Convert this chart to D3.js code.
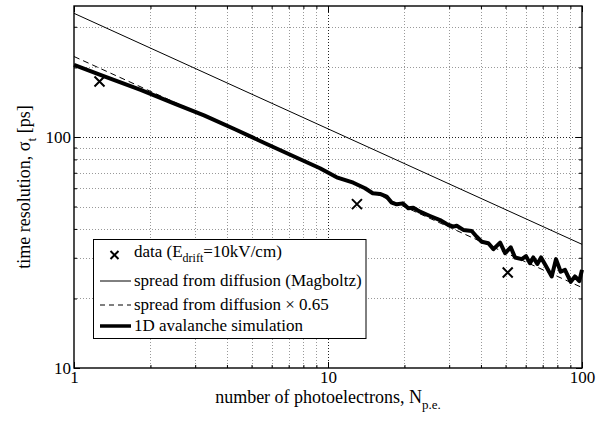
<!DOCTYPE html>
<html>
<head>
<meta charset="utf-8">
<script src="https://cdn.jsdelivr.net/npm/d3@7"></script>
<style>
  body { margin: 0; background: #fff; }
</style>
</head>
<body>
<div id="chart"></div>
<script>
// data
var xMajorTicks = [1, 10, 100];
var yMajorTicks = [10, 100];

var measN     = [1.26, 13.0, 51.0];
var measSigma = [174, 51.2, 25.9];

var magboltzN     = [1, 100];
var magboltzSigma = [343, 34.3];

var scaledN     = [1, 100];
var scaledSigma = [223, 22.3];

var simN = [1, 1.3, 1.83, 2.5, 3.25, 4.3, 5.65, 7.5, 9.3, 10.82, 12.58, 13.99, 15.0, 16.02,
            17.02, 17.81, 18.65, 19.68, 20.71, 21.67, 23.02, 25.21, 27.6, 29.33, 31.14,
            32.12, 34.1, 36.8, 38.5, 40.3, 42.8, 44.8, 47.6, 49.8, 52.4, 54.5, 57.9, 60.2,
            62.4, 64.3, 66.7, 69.0, 72.2, 76.0, 79.0, 82.4, 85.7, 90.3, 93.8, 97.6, 100];
var simSigma = [205, 184, 160, 139, 124, 108, 94, 81.5, 73.2, 66.9, 63.4, 60.0, 57.1, 56.7,
                55.2, 52.0, 51.1, 51.6, 49.1, 49.4, 47.5, 45.5, 43.7, 42.0, 40.9,
                41.3, 39.6, 39.2, 37.0, 35.2, 34.7, 32.7, 34.9, 31.4, 33.3, 30.1, 29.6, 30.5,
                28.4, 30.1, 28.2, 30.1, 27.6, 24.9, 29.6, 26.1, 26.6, 23.6, 24.9, 23.8, 26.6];

var legendLabels = ["data (E", "spread from diffusion (Magboltz)",
                    "spread from diffusion \u00d7 0.65", "1D avalanche simulation"];

(function()
{
    "use strict";

    var FONT = "'Liberation Serif', 'Times New Roman', serif";
    var W = 603, H = 421;
    var left = 74, right = 582, top = 6, bottom = 368;

    var svg = d3.select("#chart").append("svg")
                .attr("width", W).attr("height", H)
                .attr("font-family", FONT);

    var x = d3.scaleLog().domain([1, 100]).range([left, right]);
    var y = d3.scaleLog().domain([10, 369]).range([bottom, top]);

    // minor values for grid and small ticks
    var xMinor = [], yMinor = [];
    [1, 10].forEach(function(d) { for (var k = 2; k <= 9; k++) xMinor.push(d * k); });
    [10, 100].forEach(function(d) { for (var k = 2; k <= 9; k++) if (d * k < 369) yMinor.push(d * k); });

    // ---------------------------------------------------------------- grid
    var grid = svg.append("g").attr("stroke-dasharray", "1,2").attr("stroke-width", 1);
    grid.selectAll(".gx").data(xMinor.concat([10])).enter().append("line")
        .attr("x1", function(d) { return Math.round(x(d)) + 0.5; })
        .attr("x2", function(d) { return Math.round(x(d)) + 0.5; })
        .attr("y1", top).attr("y2", bottom)
        .attr("stroke", function(d) { return d === 10 ? "#222" : "#999"; });
    grid.selectAll(".gy").data(yMinor.concat([100])).enter().append("line")
        .attr("y1", function(d) { return Math.round(y(d)) + 0.5; })
        .attr("y2", function(d) { return Math.round(y(d)) + 0.5; })
        .attr("x1", left).attr("x2", right)
        .attr("stroke", function(d) { return d === 100 ? "#222" : "#999"; });

    // ---------------------------------------------------------------- axes
    function styleAxis(g) {
        g.select(".domain").remove();
        g.selectAll("line").attr("stroke", "#000").attr("stroke-width", 1);
        g.attr("font-family", FONT).attr("font-size", 17);
    }

    svg.append("g").attr("transform", `translate(0,${bottom})`)
       .call(d3.axisBottom(x).tickValues(xMajorTicks).tickFormat(d3.format("d"))
               .tickSizeInner(-6).tickSizeOuter(0).tickPadding(3))
       .call(styleAxis);
    svg.append("g").attr("transform", `translate(0,${bottom})`)
       .call(d3.axisBottom(x).tickValues(xMinor).tickFormat("").tickSizeInner(-3).tickSizeOuter(0))
       .call(styleAxis);
    svg.append("g").attr("transform", `translate(0,${top})`)
       .call(d3.axisTop(x).tickValues(xMajorTicks).tickFormat("").tickSizeInner(-6).tickSizeOuter(0))
       .call(styleAxis);
    svg.append("g").attr("transform", `translate(0,${top})`)
       .call(d3.axisTop(x).tickValues(xMinor).tickFormat("").tickSizeInner(-3).tickSizeOuter(0))
       .call(styleAxis);

    svg.append("g").attr("transform", `translate(${left},0)`)
       .call(d3.axisLeft(y).tickValues(yMajorTicks).tickFormat(d3.format("d"))
               .tickSizeInner(-6).tickSizeOuter(0).tickPadding(3))
       .call(styleAxis);
    svg.append("g").attr("transform", `translate(${left},0)`)
       .call(d3.axisLeft(y).tickValues(yMinor).tickFormat("").tickSizeInner(-3).tickSizeOuter(0))
       .call(styleAxis);
    svg.append("g").attr("transform", `translate(${right},0)`)
       .call(d3.axisRight(y).tickValues(yMajorTicks).tickFormat("").tickSizeInner(-6).tickSizeOuter(0))
       .call(styleAxis);
    svg.append("g").attr("transform", `translate(${right},0)`)
       .call(d3.axisRight(y).tickValues(yMinor).tickFormat("").tickSizeInner(-3).tickSizeOuter(0))
       .call(styleAxis);

    // ---------------------------------------------------------------- lines
    var line = d3.line()
                 .x(function(d) { return x(d[0]); })
                 .y(function(d) { return y(d[1]); });

    var plot = svg.append("g");

    plot.append("path").datum(d3.zip(magboltzN, magboltzSigma))
        .attr("d", line).attr("fill", "none").attr("stroke", "#000").attr("stroke-width", 1);
    plot.append("path").datum(d3.zip(scaledN, scaledSigma))
        .attr("d", line).attr("fill", "none").attr("stroke", "#000").attr("stroke-width", 1)
        .attr("stroke-dasharray", "6,4");
    plot.append("path").datum(d3.zip(simN, simSigma))
        .attr("d", line).attr("fill", "none").attr("stroke", "#000").attr("stroke-width", 4)
        .attr("stroke-linejoin", "round");

    function cross(g, cx, cy, r) {
        g.append("path")
         .attr("d", `M${cx-r},${cy-r}L${cx+r},${cy+r}M${cx-r},${cy+r}L${cx+r},${cy-r}`)
         .attr("stroke", "#000").attr("stroke-width", 2).attr("fill", "none");
    }
    d3.zip(measN, measSigma).forEach(function(d) { cross(plot, x(d[0]), y(d[1]), 5); });

    // frame
    svg.append("rect").attr("x", left).attr("y", top)
       .attr("width", right - left).attr("height", bottom - top)
       .attr("fill", "none").attr("stroke", "#000").attr("stroke-width", 1.4);

    // ---------------------------------------------------------------- legend
    var lg = svg.append("g").attr("font-size", 17).attr("font-family", FONT);
    lg.append("rect").attr("x", 93.5).attr("y", 239.5).attr("width", 272.5).attr("height", 99)
      .attr("fill", "#fff").attr("stroke", "#000").attr("stroke-width", 1);

    cross(lg, 114.5, 255, 4);
    var t0 = lg.append("text").attr("x", 134).attr("y", 257);
    t0.append("tspan").text(legendLabels[0]);
    t0.append("tspan").attr("font-size", 12).attr("dy", 5).text("drift");
    t0.append("tspan").attr("dy", -5).text("=10kV/cm)");

    var rows = [
        {y: 281, w: 1, dash: null},
        {y: 305, w: 1, dash: "5,4"},
        {y: 326, w: 3.5, dash: null}
    ];
    rows.forEach(function(r, i) {
        lg.append("line").attr("x1", 100).attr("x2", 131).attr("y1", r.y).attr("y2", r.y)
          .attr("stroke", "#000").attr("stroke-width", r.w)
          .attr("stroke-dasharray", r.dash);
        lg.append("text").attr("x", 134).attr("y", r.y + 5).text(legendLabels[i + 1]);
    });

    // ---------------------------------------------------------------- axis labels
    var xl = svg.append("text").attr("x", (left + right) / 2).attr("y", 403)
                .attr("text-anchor", "middle").attr("font-size", 18);
    xl.append("tspan").text("number of photoelectrons, N");
    xl.append("tspan").attr("font-size", 13).attr("dy", 6).text("p.e.");

    var yl = svg.append("text")
                .attr("transform", `translate(30,${(top + bottom) / 2}) rotate(-90)`)
                .attr("text-anchor", "middle").attr("font-size", 18);
    yl.append("tspan").text("time resolution, \u03c3");
    yl.append("tspan").attr("font-size", 13).attr("dy", 6).text("t");
    yl.append("tspan").attr("dy", -6).text(" [ps]");
}
)();
</script>
</body>
</html>
